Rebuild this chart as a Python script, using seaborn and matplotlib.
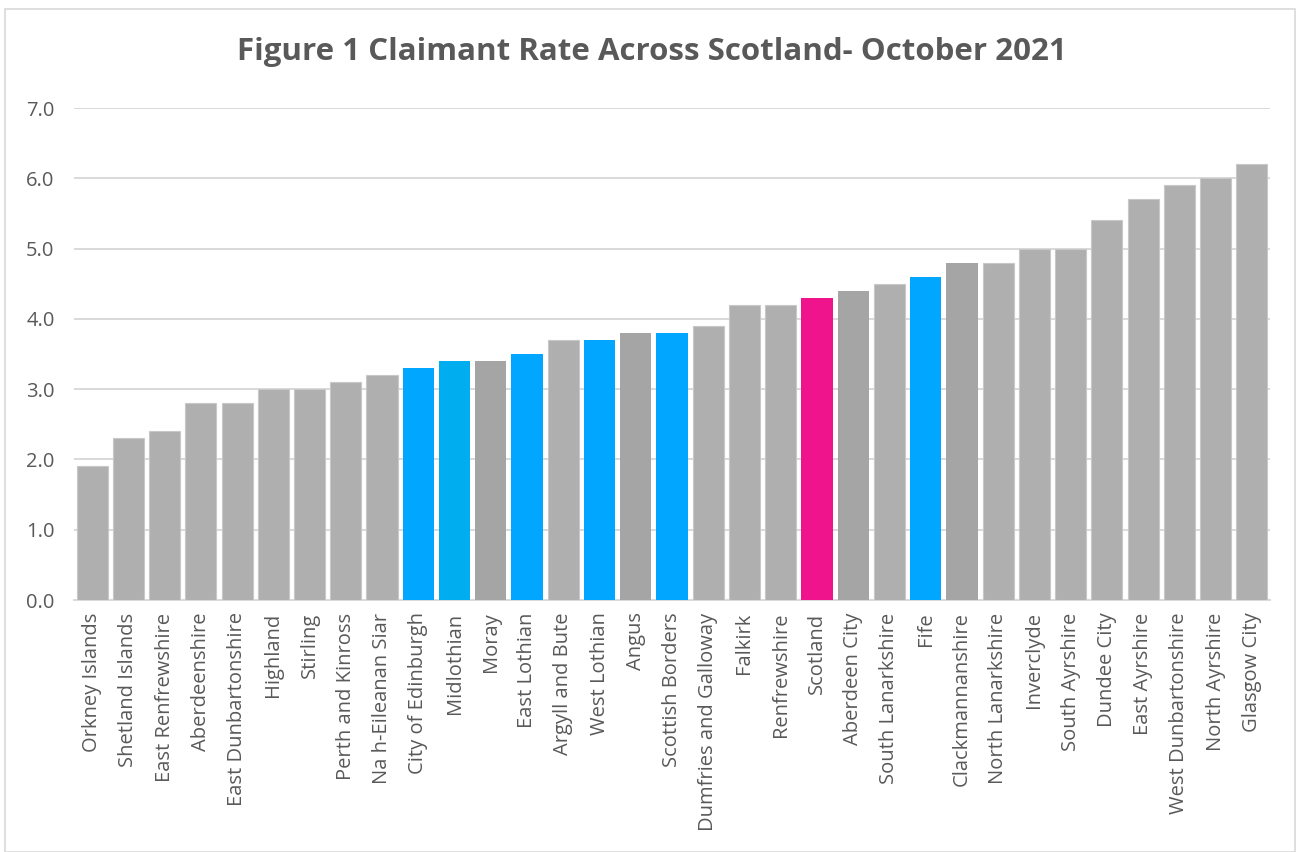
import matplotlib
matplotlib.use("Agg")
import matplotlib.pyplot as plt
import seaborn as sns
import pandas as pd
from matplotlib.patches import Rectangle

areas = ["Orkney Islands", "Shetland Islands", "East Renfrewshire", "Aberdeenshire",
         "East Dunbartonshire", "Highland", "Stirling", "Perth and Kinross",
         "Na h-Eileanan Siar", "City of Edinburgh", "Midlothian", "Moray",
         "East Lothian", "Argyll and Bute", "West Lothian", "Angus",
         "Scottish Borders", "Dumfries and Galloway", "Falkirk", "Renfrewshire",
         "Scotland", "Aberdeen City", "South Lanarkshire", "Fife",
         "Clackmannanshire", "North Lanarkshire", "Inverclyde", "South Ayrshire",
         "Dundee City", "East Ayrshire", "West Dunbartonshire", "North Ayrshire",
         "Glasgow City"]
rates = [1.9, 2.3, 2.4, 2.8, 2.8, 3.0, 3.0, 3.1, 3.2, 3.3, 3.4, 3.4, 3.5, 3.7,
         3.7, 3.8, 3.8, 3.9, 4.2, 4.2, 4.3, 4.4, 4.5, 4.6, 4.8, 4.8, 5.0, 5.0,
         5.4, 5.7, 5.9, 6.0, 6.2]
yticks = [0.0, 1.0, 2.0, 3.0, 4.0, 5.0, 6.0, 7.0]

blue_areas = ["City of Edinburgh", "East Lothian", "West Lothian", "Scottish Borders", "Fife"]
light_blue_areas = ["Midlothian"]
dark_grey_areas = ["Moray", "Angus", "Aberdeen City", "Clackmannanshire"]
highlight = ["Scotland"]

palette = {}
for a in areas:
    if a in blue_areas:
        palette[a] = "#00A6FF"
    elif a in light_blue_areas:
        palette[a] = "#00AEEF"
    elif a in dark_grey_areas:
        palette[a] = "#A5A5A5"
    elif a in highlight:
        palette[a] = "#F0148C"
    else:
        palette[a] = "#AFAFAF"

df = pd.DataFrame({"area": areas, "rate": rates})

sns.set_theme(style="white")
plt.rcParams["font.family"] = ["Open Sans", "DejaVu Sans"]

W, H = 1298, 852
fig = plt.figure(figsize=(W / 100, H / 100), dpi=100)
ax = fig.add_axes([74 / W, (H - 600) / H, (1270 - 74) / W, (600 - 108) / H])

sns.barplot(data=df, x="area", y="rate", hue="area", palette=palette, order=areas,
            hue_order=areas, legend=False, width=0.86, saturation=1, ax=ax, zorder=3,
            dodge=False)

for p, a in zip(ax.patches, areas):
    if palette[a] == "#AFAFAF":
        p.set_edgecolor("#C8C8C8")
        p.set_linewidth(0.8)
    else:
        p.set_linewidth(0)

ax.set_xlim(-0.5, len(areas) - 0.5)
ax.set_ylim(0, 7.0)
ax.set_yticks(yticks)
ax.set_yticklabels([f"{v:.1f}" for v in yticks])
ax.yaxis.grid(True, color="#D9D9D9", linewidth=1.4, zorder=0)
ax.set_axisbelow(True)
for s in ["top", "right", "left"]:
    ax.spines[s].set_visible(False)
ax.spines["bottom"].set_color("#D9D9D9")
ax.spines["bottom"].set_linewidth(1.4)
ax.set_xlabel("")
ax.set_ylabel("")
ax.tick_params(axis="x", labelrotation=90, labelsize=14.5, colors="#595959", length=0, pad=9)
ax.tick_params(axis="y", labelsize=14.5, colors="#595959", length=0, pad=14)
for lbl in ax.get_yticklabels():
    lbl.set_horizontalalignment("right")

fig.text(652 / W, 1 - 52 / H, "Figure 1 Claimant Rate Across Scotland- October 2021",
         ha="center", va="center", fontsize=22.5, fontweight="bold", color="#595959")

fig.patches.append(Rectangle((5 / W, 0), (W - 8) / W, 1 - 9 / H, transform=fig.transFigure,
                             fill=False, edgecolor="#D9D9D9", linewidth=1.2))

fig.savefig("out.png", dpi=100)
